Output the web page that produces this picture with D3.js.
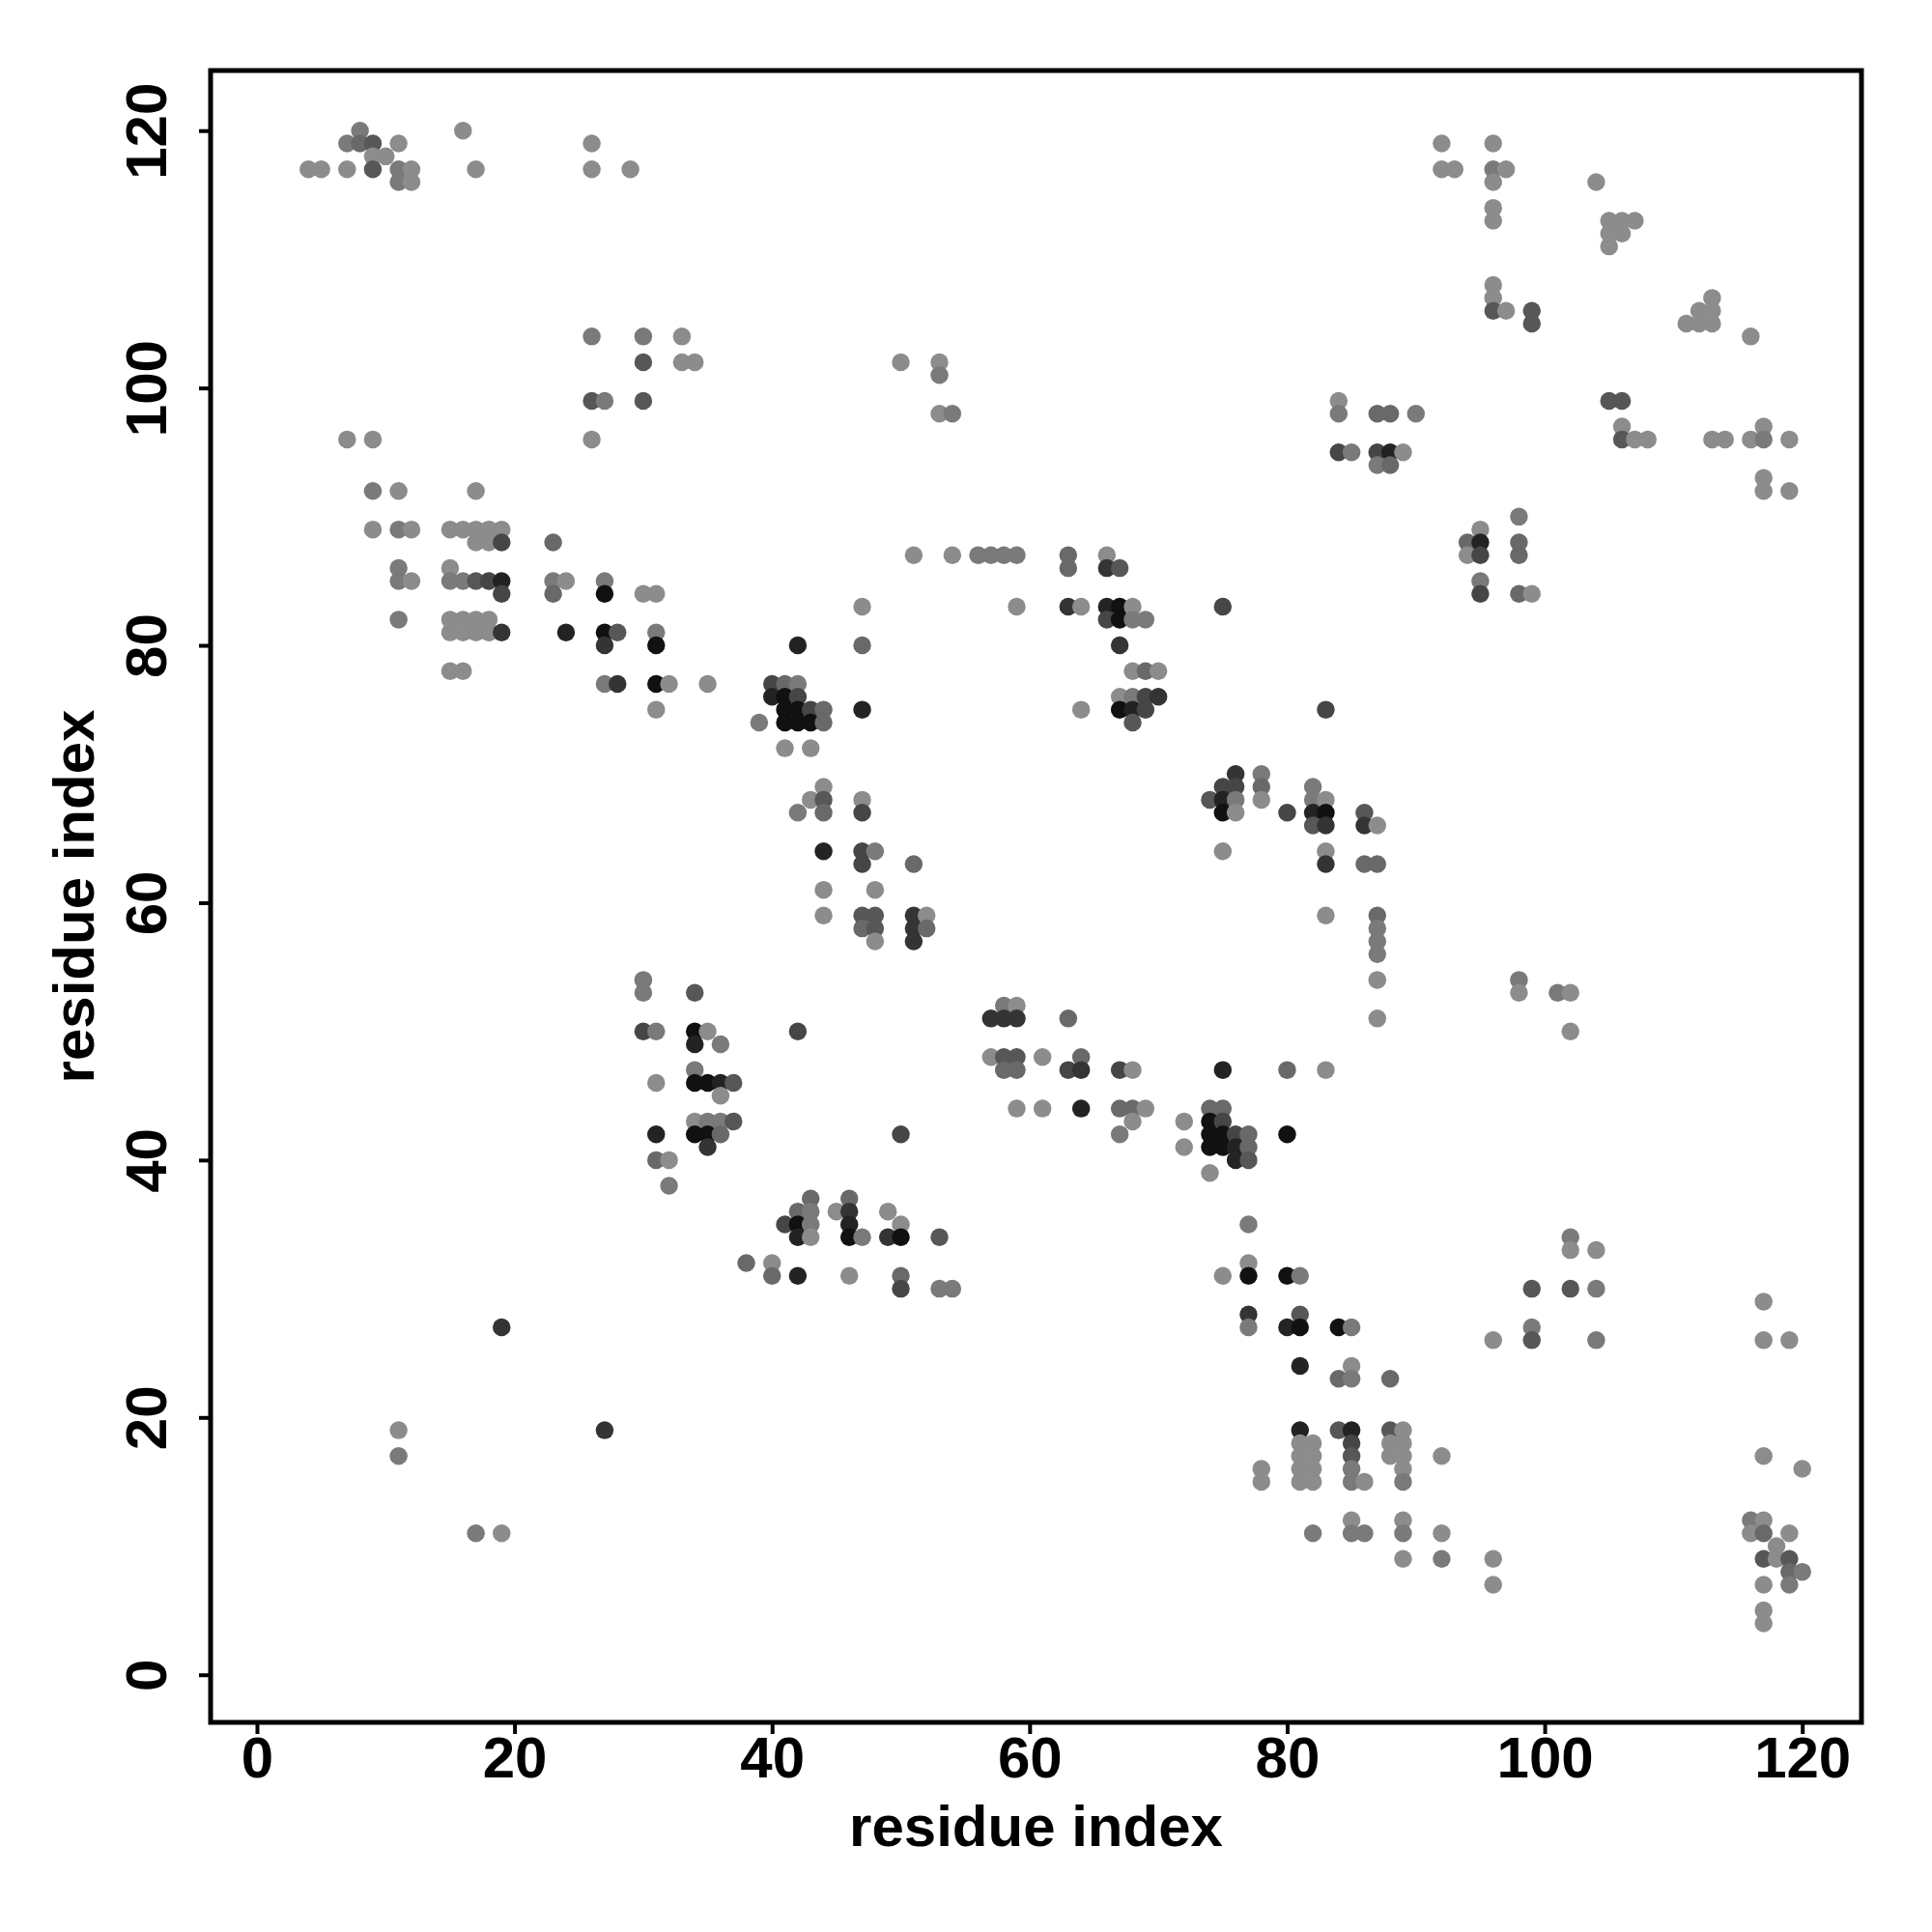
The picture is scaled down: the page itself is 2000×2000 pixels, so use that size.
<!DOCTYPE html>
<html>
<head>
<meta charset="utf-8">
<script src="https://cdn.jsdelivr.net/npm/d3@7"></script>
<style>
  html, body { margin: 0; padding: 0; background: #fff; }
  svg text { font-family: "Liberation Sans", Arial, Helvetica, sans-serif; font-weight: bold; }
</style>
</head>
<body>
<svg id="chart" width="2000" height="2000"></svg>
<script>
// Contact map: for each residue-index row (y), the partner residues (x) and a contact strength level (0 = weak .. 7 = strong)
const rowY = [120,119,118,117,116,114,113,112,111,108,107,106,105,104,102,101,99,98,97,96,95,94,93,92,90,89,88,87,86,85,84,83,82,81,80,78,77,76,75,74,72,70,69,68,67,66,64,63,61,59,58,57,56,54,53,52,51,50,49,48,47,46,45,44,43,42,41,40,39,38,37,36,35,34,33,32,31,30,29,28,27,26,24,23,19,18,17,16,15,12,11,10,9,8,7,5,4];
const rowX = [
  [8,16],
  [7,8,9,11,26,92,96],
  [9,10],
  [4,5,7,9,11,12,17,26,29,92,93,96,97],
  [11,12,96,104],
  [96],
  [96,105,106,107],
  [105,106],
  [105],
  [96],
  [96,113],
  [96,97,99,112,113],
  [99,111,112,113],
  [26,30,33,116],
  [30,33,34,50,53],
  [53],
  [26,27,30,84,105,106],
  [53,54,84,87,88,90],
  [106,117],
  [7,9,26,106,107,108,113,114,116,117,119],
  [84,85,87,88,89],
  [87,88],
  [117],
  [9,11,17,117,119],
  [98],
  [9,11,12,15,16,17,18,19,95],
  [17,18,19,23,94,95,98],
  [51,54,56,57,58,59,63,66,94,95,98],
  [11,15,63,66,67],
  [11,12,15,16,17,18,19,23,24,27,95],
  [19,23,27,30,31,95,98,99],
  [47,59,63,64,66,67,68,75],
  [11,15,16,17,18,66,67,68,69],
  [15,16,17,18,19,24,27,28,31],
  [27,31,42,47,67],
  [15,16,68,69,70],
  [27,28,31,32,35,40,41,42],
  [40,41,42,67,68,69,70],
  [31,41,42,43,44,47,64,67,68,69,83],
  [39,41,42,43,44,68],
  [41,43],
  [76,78],
  [44,75,76,78,82],
  [43,44,47,74,75,76,78,82,83],
  [42,44,47,75,76,80,82,83,86],
  [82,83,86,87],
  [44,47,48,75,83],
  [47,51,83,86,87],
  [44,48],
  [44,47,48,51,52,83,87],
  [47,48,51,52,87],
  [48,51,87],
  [87],
  [30,87,98],
  [30,34,98,101,102],
  [58,59],
  [57,58,59,63,87],
  [30,31,34,35,42,102],
  [34,36],
  [57,58,59,61,64],
  [34,58,59,63,64,67,68,75,80,83],
  [31,34,35,36,37],
  [36],
  [59,61,64,67,68,69,74,75],
  [34,35,36,37,68,72,74,75],
  [31,34,35,36,50,67,74,75,76,77,80],
  [35,72,74,75,76,77],
  [31,32,76,77],
  [74],
  [32],
  [43,46],
  [42,43,45,46,49],
  [41,42,43,46,50,77],
  [42,43,46,47,49,50,53,102],
  [102,104],
  [38,40,77],
  [40,42,46,50,75,77,80,81],
  [50,53,54,99,102,104],
  [117],
  [77,81],
  [19,77,80,81,84,85,99],
  [96,99,104,117,119],
  [81,85],
  [84,85,88],
  [11,27,81,84,85,88,89],
  [81,82,85,88,89],
  [11,81,82,85,88,89,92,117],
  [78,81,82,85,89,120],
  [78,81,82,85,86,89],
  [85,89,116,117],
  [17,19,82,85,86,89,92,116,117,119],
  [118],
  [89,92,96,117,118,119],
  [119,120],
  [96,117,119],
  [117],
  [117]
];
const rowLevel = [
  [1,0],
  [1,2,3,0,0,0,0],
  [0,0],
  [0,0,0,3,1,0,0,0,0,0,0,1,0],
  [1,0,0,0],
  [0],
  [0,0,0,0],
  [0,0],
  [0],
  [0],
  [0,0],
  [3,0,3,0,0],
  [3,0,0,0],
  [1,1,0,0],
  [3,0,0,0,0],
  [1],
  [3,1,3,0,3,3],
  [0,1,1,2,2,1],
  [0,0],
  [0,0,0,3,0,0,0,0,0,1,0],
  [4,1,4,6,0],
  [1,2],
  [0],
  [1,0,0,0,0],
  [1],
  [0,1,0,0,0,0,0,0,0],
  [0,0,4,2,2,6,2],
  [0,0,1,1,1,1,2,0,0,4,2],
  [1,0,2,5,3],
  [1,0,1,1,3,4,6,1,0,1,1],
  [4,2,7,0,0,4,2,0],
  [0,0,5,0,6,7,0,4],
  [1,0,0,0,0,4,7,1,1],
  [0,0,0,0,5,6,7,3,1],
  [5,7,6,2,5],
  [0,0,0,2,0],
  [1,5,7,0,0,4,2,1],
  [6,7,4,0,1,4,5],
  [0,7,7,4,2,6,0,7,6,4,4],
  [1,7,7,7,2,3],
  [0,0],
  [5,1],
  [0,4,4,2,1],
  [0,3,0,3,6,1,0,1,0],
  [1,2,4,7,0,4,6,7,3],
  [3,5,5,0],
  [6,4,1,0,0],
  [4,2,5,2,2],
  [0,0],
  [0,3,3,5,0,0,2],
  [2,3,5,2,1],
  [0,5,1],
  [1],
  [1,0,1],
  [1,3,0,1,0],
  [1,0],
  [5,5,5,2,0],
  [4,1,7,0,4,0],
  [6,1],
  [0,3,3,0,2],
  [1,2,2,4,5,4,0,6,2,0],
  [0,7,7,6,3],
  [0],
  [0,0,6,2,2,0,2,2],
  [0,1,1,3,0,0,7,4],
  [6,7,7,2,4,1,7,7,4,2,7],
  [5,0,7,7,6,2],
  [2,0,6,3],
  [0],
  [1],
  [2,2],
  [2,1,0,5,0],
  [4,7,1,6,0,1],
  [6,0,7,1,5,7,3,1],
  [0,0],
  [2,0,0],
  [2,6,0,2,0,7,7,1],
  [4,1,1,3,3,1],
  [0],
  [5,3],
  [5,1,6,7,7,1,1],
  [0,3,1,0,0],
  [6,0],
  [2,1,2],
  [0,5,6,3,6,3,0],
  [0,0,4,0,0],
  [1,0,0,3,0,0,0,0],
  [0,0,0,1,0,0],
  [0,0,0,1,0,1],
  [0,0,1,0],
  [1,0,1,1,1,1,0,0,2,0],
  [0],
  [0,1,0,3,0,3],
  [2,1],
  [0,0,1],
  [0],
  [0]
];
const tickValues = [0, 20, 40, 60, 80, 100, 120];
const axisTitleX = "residue index";
const axisTitleY = "residue index";

// flatten into point records
const points = [];
rowY.forEach((yv, i) => {
  rowX[i].forEach((xv, j) => points.push({x: xv, y: yv, level: rowLevel[i][j]}));
});

const svg = d3.select("#chart");
const plotLeft = 218, plotRight = 1927, plotTop = 73, plotBottom = 1783;

const xScale = d3.scaleLinear().domain([-3.6, 124.6]).range([plotLeft, plotRight]);
const yScale = d3.scaleLinear().domain([-3.7, 124.67]).range([plotBottom, plotTop]);
const color = d3.scaleLinear().domain([0, 7]).range(["#8c8c8c", "#111111"]);

// points
svg.append("g")
  .selectAll("circle")
  .data(points)
  .join("circle")
  .attr("cx", d => xScale(d.x))
  .attr("cy", d => yScale(d.y))
  .attr("r", 9.25)
  .attr("fill", d => color(d.level));

// frame
svg.append("rect")
  .attr("x", plotLeft).attr("y", plotTop)
  .attr("width", plotRight - plotLeft).attr("height", plotBottom - plotTop)
  .attr("fill", "none").attr("stroke", "#000").attr("stroke-width", 5);

// x axis
const gx = svg.append("g")
  .attr("transform", `translate(0,${plotBottom})`)
  .call(d3.axisBottom(xScale).tickValues(tickValues).tickSize(12).tickSizeOuter(0).tickFormat(d3.format("d")));
gx.select(".domain").remove();
gx.selectAll(".tick line").attr("stroke", "#000").attr("stroke-width", 4);
gx.selectAll(".tick text")
  .attr("y", 1840 - plotBottom).attr("dy", 0)
  .attr("fill", "#000")
  .style("font-size", "60px")
  .attr("text-anchor", "middle");

// y axis
const gy = svg.append("g")
  .attr("transform", `translate(${plotLeft},0)`)
  .call(d3.axisLeft(yScale).tickValues(tickValues).tickSize(12).tickSizeOuter(0).tickFormat(d3.format("d")));
gy.select(".domain").remove();
gy.selectAll(".tick line").attr("stroke", "#000").attr("stroke-width", 4);
gy.selectAll(".tick text")
  .attr("x", 0).attr("y", 0).attr("dy", 0)
  .attr("transform", `translate(${172 - plotLeft},0) rotate(-90)`)
  .attr("fill", "#000")
  .style("font-size", "60px")
  .attr("text-anchor", "middle");

// titles
svg.append("text")
  .attr("x", (plotLeft + plotRight) / 2).attr("y", 1911)
  .attr("text-anchor", "middle")
  .style("font-size", "60px")
  .text(axisTitleX);

svg.append("text")
  .attr("transform", `translate(97,${(plotTop + plotBottom) / 2}) rotate(-90)`)
  .attr("text-anchor", "middle")
  .style("font-size", "60px")
  .text(axisTitleY);
</script>
</body>
</html>
